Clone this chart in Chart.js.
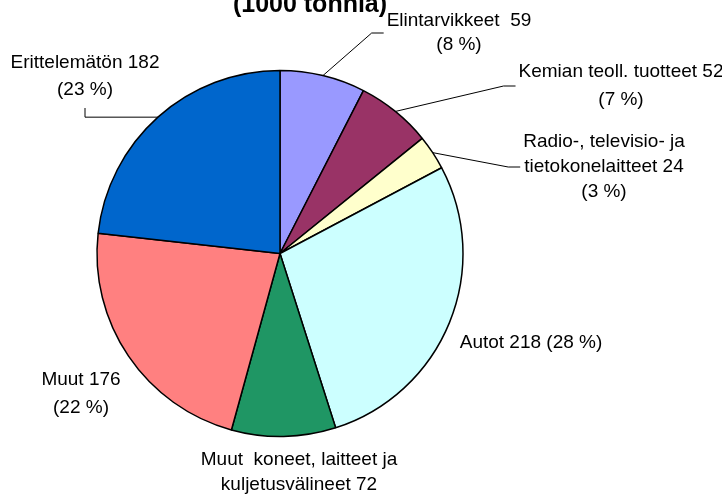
<!DOCTYPE html>
<html>
<head>
<meta charset="utf-8">
<script src="https://cdn.jsdelivr.net/npm/chart.js@4"></script>
<style>
  html, body { margin: 0; padding: 0; background: #fff; }
  #wrap { width: 722px; height: 496px; position: relative; }
</style>
</head>
<body>
<div id="wrap"><canvas id="c" width="722" height="496"></canvas></div>
<script>
// ---- data ----
const categories = ['Elintarvikkeet', 'Kemian teoll. tuotteet', 'Radio-, televisio- ja tietokonelaitteet', 'Autot', 'Muut  koneet, laitteet ja kuljetusvälineet', 'Muut', 'Erittelemätön'];
const values = [59, 52, 24, 218, 72, 176, 182];
const percents = [8, 7, 3, 28, 9, 22, 23];
const colors = ['#9999FF', '#993366', '#FFFFCC', '#CCFFFF', '#1F9664', '#FF8080', '#0066CC'];
const titleText = '(1000 tonnia)';

// label text lines built from the data
const labelLines = [
  [categories[0] + '  ' + values[0], '(' + percents[0] + ' %)'],
  [categories[1] + ' ' + values[1], '(' + percents[1] + ' %)'],
  ['Radio-, televisio- ja', 'tietokonelaitteet ' + values[2], '(' + percents[2] + ' %)'],
  [categories[3] + ' ' + values[3] + ' (' + percents[3] + ' %)'],
  ['Muut  koneet, laitteet ja', 'kuljetusvälineet ' + values[4]],
  [categories[5] + ' ' + values[5], '(' + percents[5] + ' %)'],
  [categories[6] + ' ' + values[6], '(' + percents[6] + ' %)']
];

// label placement (offset of the label block centre from pie centre), line height, leader type
const labelLayout = [
  { dx: 179, dy: -220.5, lh: 24, leader: 'left' },
  { dx: 341, dy: -167.5, lh: 28, leader: 'left' },
  { dx: 324, dy: -86.5, lh: 25, leader: 'left' },
  { dx: 251, dy: 89.5, lh: 26, leader: null },
  { dx: 19, dy: 219, lh: 25, leader: null },
  { dx: -199, dy: 140.5, lh: 28, leader: null },
  { dx: -195, dy: -177, lh: 27, leader: 'bottom' }
];

const labelPlugin = {
  id: 'pieLabels',
  afterDatasetsDraw(chart) {
    const ctx = chart.ctx;
    const meta = chart.getDatasetMeta(0);
    ctx.save();
    ctx.font = '19px "Liberation Sans", Arial, sans-serif';
    ctx.fillStyle = '#000';
    ctx.textAlign = 'center';
    ctx.textBaseline = 'middle';
    ctx.strokeStyle = '#000';
    ctx.lineWidth = 1;
    meta.data.forEach((arc, i) => {
      const p = arc.getProps(['x', 'y', 'startAngle', 'endAngle', 'outerRadius'], true);
      const L = labelLayout[i];
      const lines = labelLines[i];
      const cx = p.x + L.dx, cy = p.y + L.dy;
      const n = lines.length;
      let maxW = 0;
      lines.forEach((t, k) => {
        ctx.fillText(t, cx, cy + (k - (n - 1) / 2) * L.lh);
        maxW = Math.max(maxW, ctx.measureText(t).width);
      });
      if (L.leader) {
        const mid = (p.startAngle + p.endAngle) / 2;
        const ax = p.x + Math.cos(mid) * p.outerRadius;
        const ay = p.y + Math.sin(mid) * p.outerRadius;
        ctx.beginPath();
        ctx.moveTo(ax, ay);
        if (L.leader === 'left') {
          const tx = cx - maxW / 2 - 3;
          ctx.lineTo(tx - 12, cy);
          ctx.lineTo(tx, cy);
        } else {
          const ty = cy + n * L.lh / 2 + 4.5;
          ctx.lineTo(cx, ay);
          ctx.lineTo(cx, ty);
        }
        ctx.stroke();
      }
    });
    // title
    ctx.font = 'bold 25px "Liberation Sans", Arial, sans-serif';
    ctx.textBaseline = 'alphabetic';
    ctx.fillText(titleText, 310, 11.5);
    ctx.restore();
  }
};

new Chart(document.getElementById('c'), {
  type: 'pie',
  data: {
    labels: categories,
    datasets: [{
      data: values,
      backgroundColor: colors,
      borderColor: '#000',
      borderWidth: 1.5,
      hoverOffset: 0,
      radius: 183
    }]
  },
  options: {
    responsive: false,
    animation: false,
    events: [],
    layout: { padding: { left: 0, right: 162, top: 11, bottom: 0 } },
    plugins: {
      legend: { display: false },
      title: { display: false },
      tooltip: { enabled: false }
    }
  },
  plugins: [labelPlugin]
});
</script>
</body>
</html>
